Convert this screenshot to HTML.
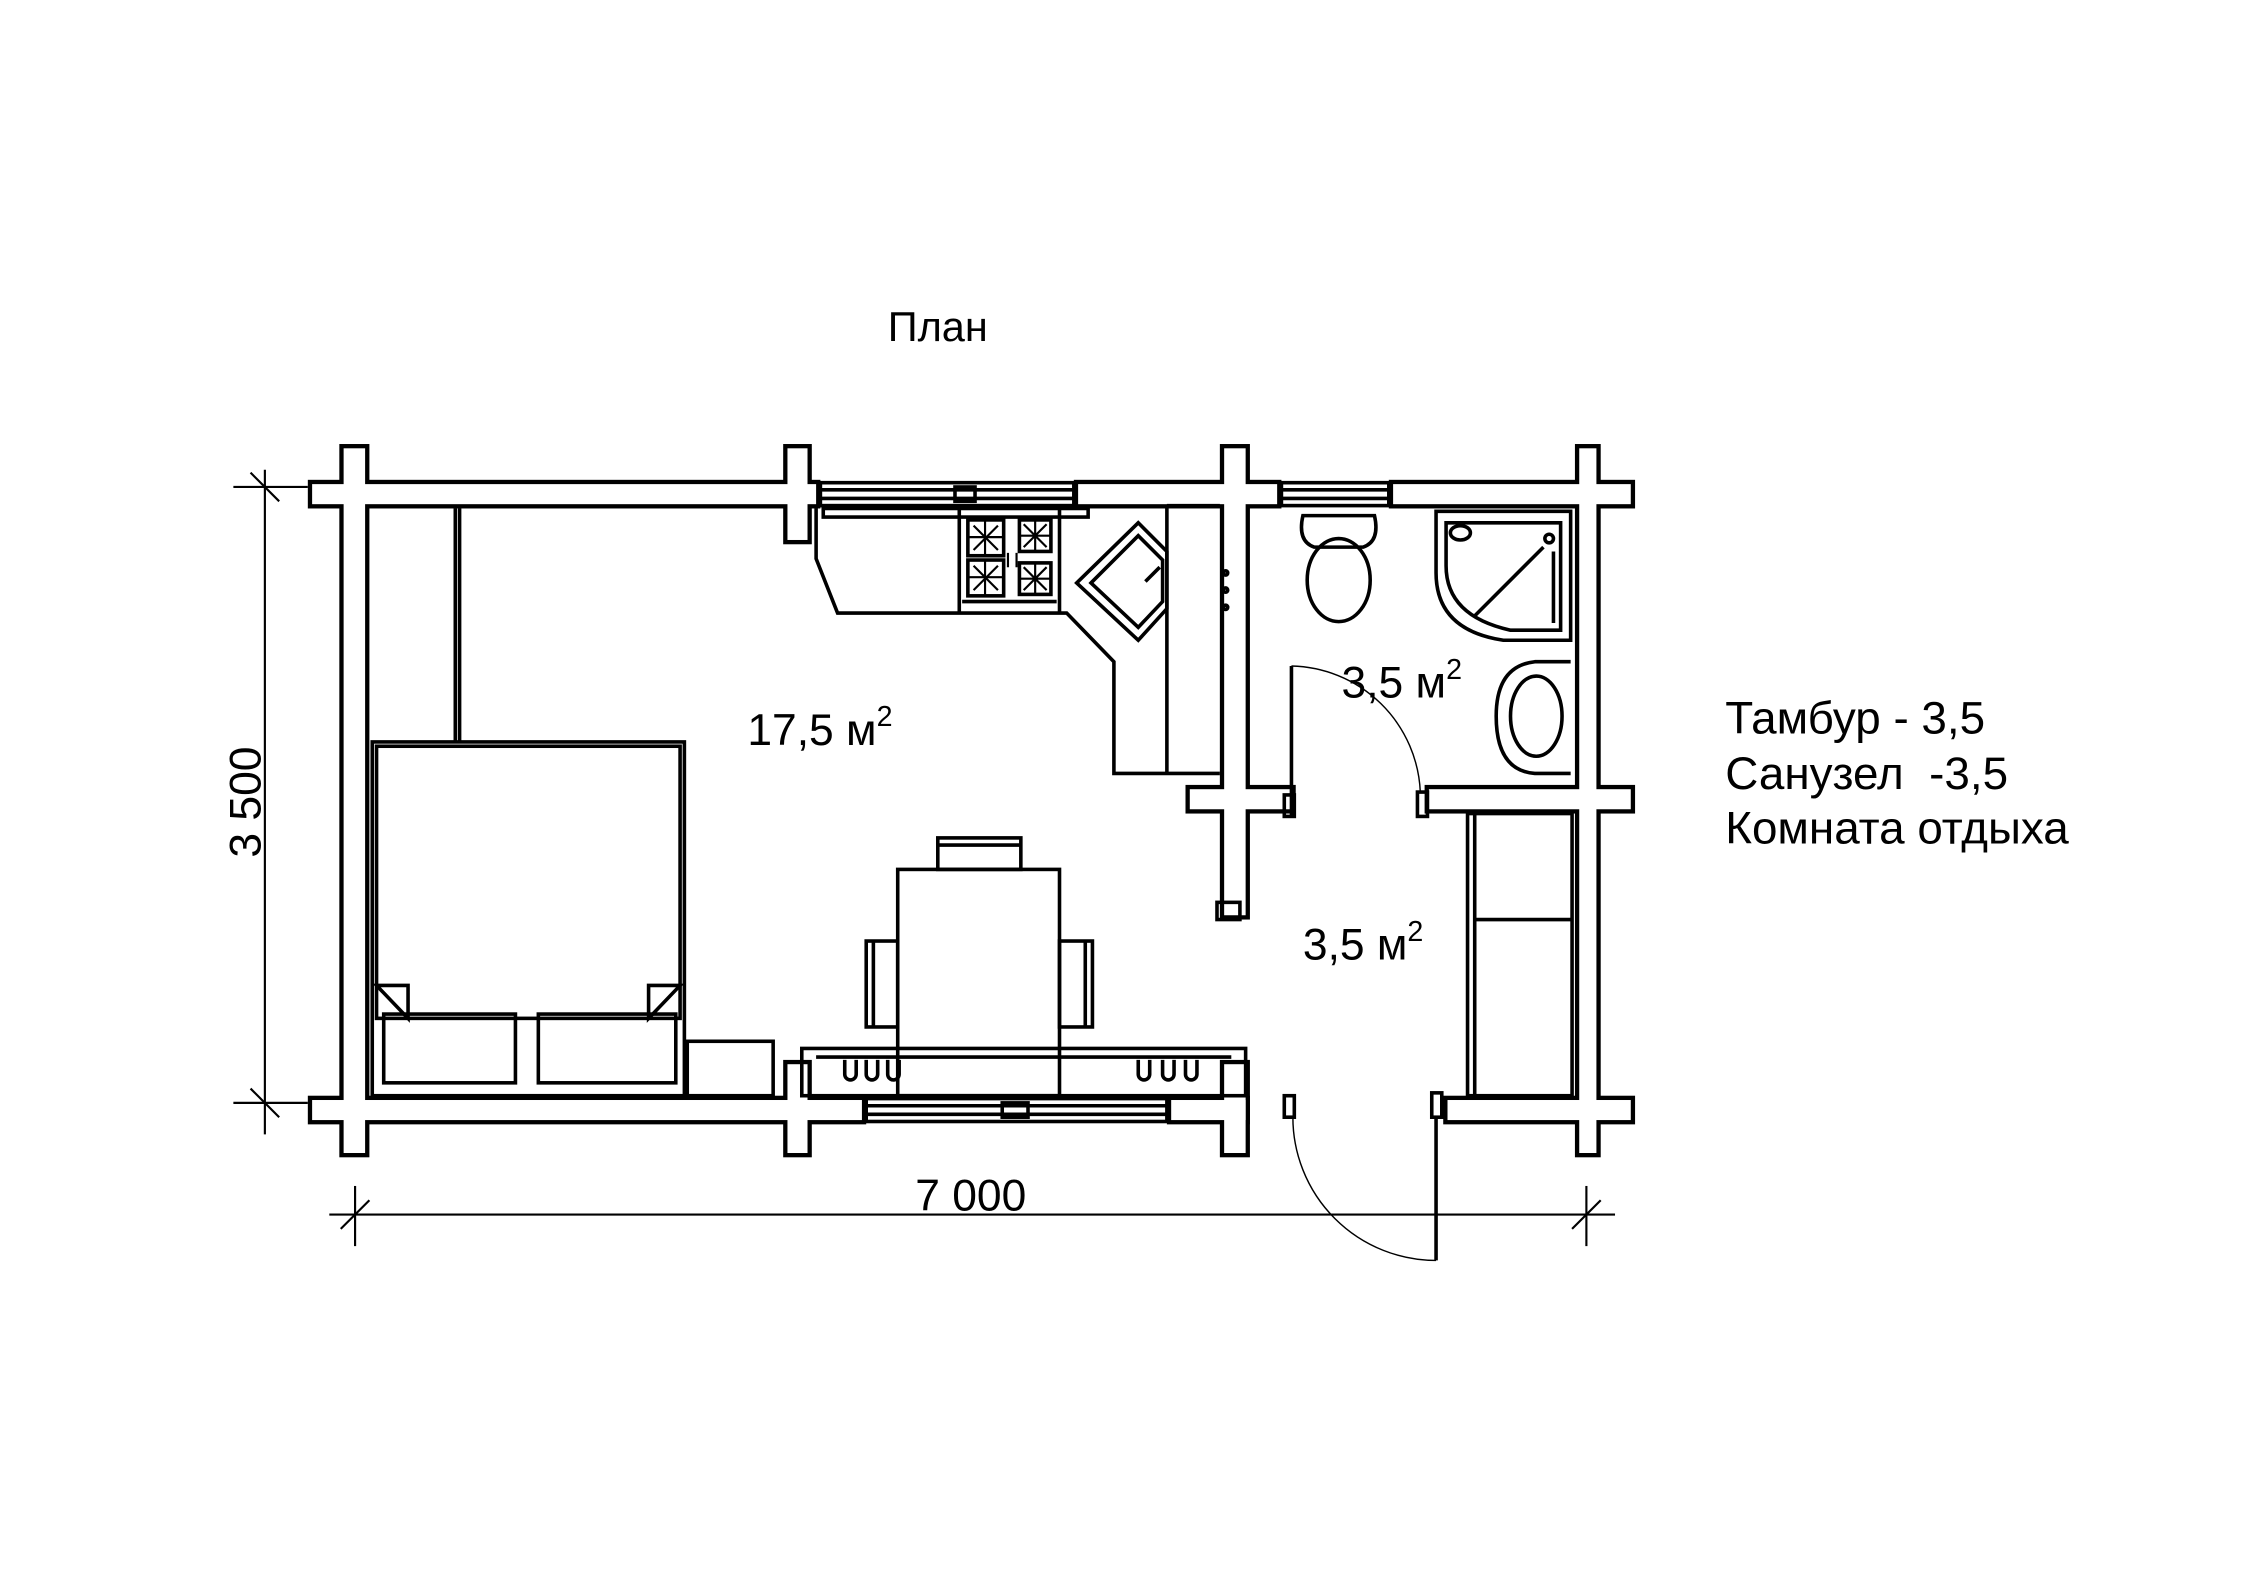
<!DOCTYPE html>
<html><head><meta charset="utf-8"><style>
html,body{margin:0;padding:0;background:#fff;}
svg{display:block;}
text{font-family:"Liberation Sans",sans-serif;fill:#000;}
</style></head><body>
<svg width="2245" height="1587" viewBox="0 0 1568 1108" preserveAspectRatio="none" xmlns="http://www.w3.org/2000/svg">
<rect width="1568" height="1108" fill="#fff"/>
<text x="655" y="238" font-size="29" text-anchor="middle">План</text>

<g fill="#000">
<rect x="215" y="335" width="358" height="20"/>
<rect x="750" y="335" width="145" height="20"/>
<rect x="970" y="335" width="172" height="20"/>
<rect x="237" y="310" width="21" height="498"/>
<rect x="547" y="310" width="20" height="70"/>
<rect x="547" y="740" width="20" height="68"/>
<rect x="852" y="310" width="21" height="332"/>
<rect x="852" y="740" width="21" height="68"/>
<rect x="1100" y="310" width="18" height="498"/>
<rect x="215" y="765" width="390" height="20"/>
<rect x="815" y="765" width="58" height="20"/>
<rect x="1008" y="765" width="134" height="20"/>
<rect x="828" y="548" width="77" height="20"/>
<rect x="995" y="548" width="147" height="20"/>
</g>
<g fill="#fff">
<rect x="218" y="338" width="352" height="14"/>
<rect x="753" y="338" width="139" height="14"/>
<rect x="973" y="338" width="166" height="14"/>
<rect x="240" y="313" width="15" height="492"/>
<rect x="550" y="313" width="14" height="64"/>
<rect x="550" y="743" width="14" height="62"/>
<rect x="855" y="313" width="15" height="326"/>
<rect x="855" y="743" width="15" height="62"/>
<rect x="1103" y="313" width="12" height="492"/>
<rect x="218" y="768" width="384" height="14"/>
<rect x="818" y="768" width="52" height="14"/>
<rect x="1011" y="768" width="128" height="14"/>
<rect x="831" y="551" width="71" height="14"/>
<rect x="998" y="551" width="141" height="14"/>
</g>
<rect x="850" y="630" width="16" height="12" fill="none" stroke="#000" stroke-width="2.5"/>

<g fill="none" stroke="#000" stroke-width="2.5">
<rect x="573" y="337" width="177" height="16"/>
<line x1="573" y1="342" x2="750" y2="342"/><line x1="573" y1="348" x2="750" y2="348"/>
<rect x="667" y="340" width="14" height="10"/>
<rect x="895" y="337" width="75" height="16"/>
<line x1="895" y1="342" x2="970" y2="342"/><line x1="895" y1="348" x2="970" y2="348"/>
<rect x="605" y="767" width="210" height="16"/>
<line x1="605" y1="772" x2="815" y2="772"/><line x1="605" y1="778" x2="815" y2="778"/>
<rect x="700" y="770" width="18" height="10"/>

<line x1="318" y1="355" x2="318" y2="518"/><line x1="321" y1="355" x2="321" y2="518"/>
<rect x="260" y="518" width="218" height="247"/>
<rect x="263" y="521" width="212" height="190"/>
<path d="M263 688 L285 688 L285 711 Z M475 688 L453 688 L453 711 Z"/>
<rect x="268" y="708" width="92" height="48"/>
<rect x="376" y="708" width="96" height="48"/>
<rect x="480" y="727" width="60" height="38"/>

<path d="M570 355 L570 390 L585 428 L745 428 L778 462 L778 540 L852 540"/>
<rect x="575" y="355" width="185" height="6"/>
<line x1="670" y1="355" x2="670" y2="428"/><line x1="740" y1="355" x2="740" y2="428"/>
<line x1="672" y1="420" x2="738" y2="420"/>
<rect x="676" y="363" width="25" height="25"/><rect x="712" y="363" width="22" height="22"/>
<rect x="676" y="391" width="25" height="25"/><rect x="712" y="393" width="22" height="22"/>
<path d="M688 363V388M676 375H701M680 367L697 384M697 367L680 384M723 363V385M712 374H734M715 366L731 382M731 366L715 382M688 391V416M676 403H701M680 395L697 412M697 395L680 412M723 393V415M712 404H734M715 396L731 412M731 396L715 412" stroke-width="1.5"/>
<path d="M704 386V396M710 386V396" stroke-width="1.5"/>
<line x1="815" y1="353" x2="815" y2="540"/>
<line x1="815" y1="353" x2="852" y2="353"/>
<path d="M752 407 L795 365 L815 385 L815 425 L795 447 Z"/>
<path d="M762 407 L795 374 L812 391 L812 420 L795 438 Z"/>
<line x1="800" y1="406" x2="810" y2="396"/>
<circle cx="856" cy="400" r="1.5"/><circle cx="856" cy="412" r="1.5"/><circle cx="856" cy="424" r="1.5"/>

<rect x="627" y="607" width="113" height="158"/>
<rect x="605" y="657" width="22" height="60"/><line x1="610" y1="657" x2="610" y2="717"/>
<rect x="740" y="657" width="23" height="60"/><line x1="758" y1="657" x2="758" y2="717"/>
<rect x="655" y="585" width="58" height="22"/><line x1="655" y1="590" x2="713" y2="590"/>
<rect x="560" y="732" width="310" height="33"/>
<line x1="570" y1="738" x2="860" y2="738"/>
<path d="M590 740 v10 a4 4 0 0 0 8 0 v-10 M605 740 v10 a4 4 0 0 0 8 0 v-10 M620 740 v10 a4 4 0 0 0 8 0 v-10 M795 740 v10 a4 4 0 0 0 8 0 v-10 M812 740 v10 a4 4 0 0 0 8 0 v-10 M828 740 v10 a4 4 0 0 0 8 0 v-10"/>

<path d="M910 360 Q906 378 918 382 L952 382 Q964 378 960 360 Z"/>
<ellipse cx="935" cy="405" rx="22" ry="29"/>
<path d="M1003 357 L1097 357 L1097 447 L1050 447 Q1003 440 1003 400 Z"/>
<path d="M1010 365 L1090 365 L1090 440 L1055 440 Q1010 430 1010 395 Z"/>
<line x1="1030" y1="430" x2="1078" y2="382"/>
<line x1="1085" y1="385" x2="1085" y2="435"/>
<circle cx="1082" cy="376" r="3"/>
<ellipse cx="1020" cy="372" rx="7" ry="5"/>
<path d="M1097 462 L1072 462 Q1045 465 1045 500 Q1045 538 1072 540 L1097 540"/>
<ellipse cx="1073" cy="500" rx="18" ry="28"/>

<rect x="1025" y="568" width="73" height="197"/>
<line x1="1030" y1="568" x2="1030" y2="765"/>
<line x1="1030" y1="642" x2="1098" y2="642"/>

<line x1="902" y1="465" x2="902" y2="570"/>
<rect x="897" y="555" width="7" height="15"/>
<rect x="990" y="553" width="7" height="17"/>
<rect x="897" y="765" width="7" height="15"/>
<rect x="1000" y="763" width="7" height="17"/>
<line x1="1003" y1="780" x2="1003" y2="880"/>
</g>
<g fill="none" stroke="#000" stroke-width="1">
<path d="M902 465 A92 92 0 0 1 992 553"/>
<path d="M903 780 A100 100 0 0 0 1003 880"/>
</g>

<g stroke="#000" stroke-width="1.5" fill="none">
<line x1="185" y1="328" x2="185" y2="792"/>
<line x1="163" y1="340" x2="215" y2="340"/>
<line x1="163" y1="770" x2="215" y2="770"/>
<line x1="175" y1="330" x2="195" y2="350"/><line x1="175" y1="760" x2="195" y2="780"/>
<line x1="230" y1="848" x2="1128" y2="848"/>
<line x1="248" y1="828" x2="248" y2="870"/>
<line x1="1108" y1="828" x2="1108" y2="870"/>
<line x1="238" y1="858" x2="258" y2="838"/><line x1="1098" y1="858" x2="1118" y2="838"/>
</g>
<text x="678" y="845" font-size="31" text-anchor="middle">7 000</text>
<text transform="translate(182,560) rotate(-90)" font-size="31" text-anchor="middle">3 500</text>

<text x="522" y="520" font-size="31">17,5 м<tspan dy="-13" font-size="20">2</tspan></text>
<text x="937" y="487" font-size="31">3,5 м<tspan dy="-13" font-size="20">2</tspan></text>
<text x="910" y="670" font-size="31">3,5 м<tspan dy="-13" font-size="20">2</tspan></text>

<text x="1205" y="512" font-size="32">Тамбур - 3,5</text>
<text x="1205" y="551" font-size="32" xml:space="preserve">Санузел  -3,5</text>
<text x="1205" y="589" font-size="32">Комната отдыха</text>
</svg>
</body></html>
